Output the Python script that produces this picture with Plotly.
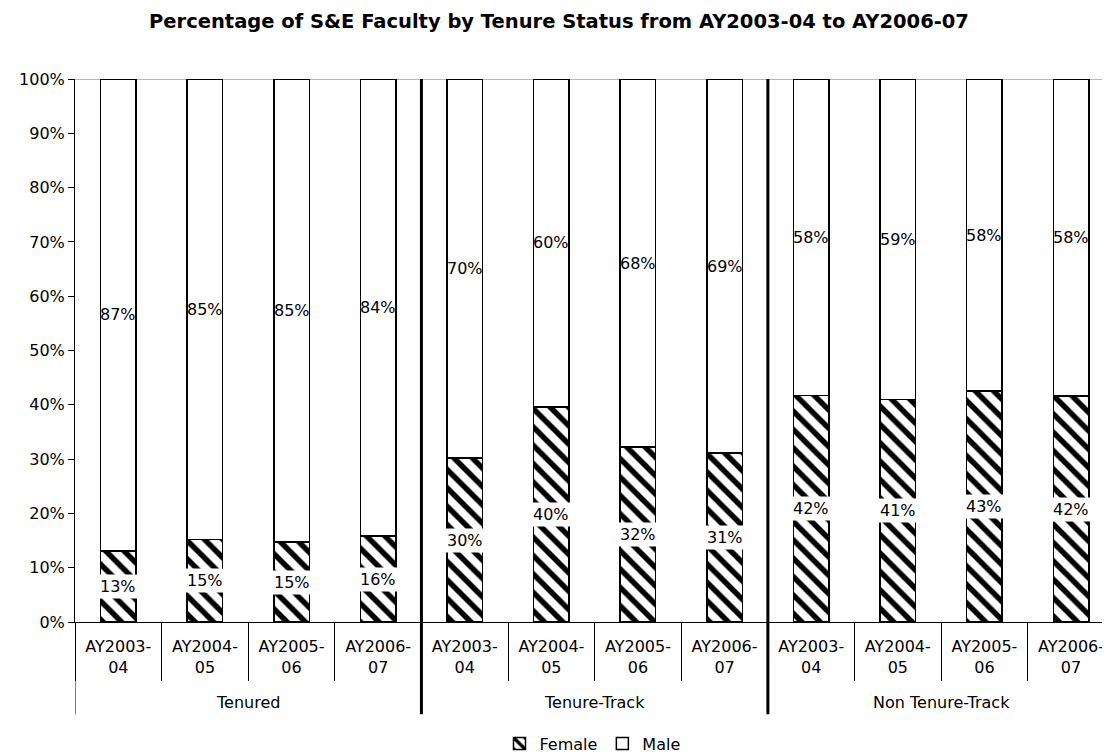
import math
import plotly.graph_objects as go

groups = ["Tenured", "Tenure-Track", "Non Tenure-Track"]
years = ["AY2003-<br>04", "AY2004-<br>05", "AY2005-<br>06", "AY2006-<br>07"]
female = [13.1, 15.2, 14.7, 15.8, 30.2, 39.6, 32.2, 31.1, 41.7, 41.0, 42.5, 41.6]
male = [round(100 - f, 1) for f in female]
y_ticks = list(range(0, 101, 10))

n_per = len(years)
pos = list(range(len(groups) * n_per))
tick_text = [y for _ in groups for y in years]

FONT = "Verdana, DejaVu Sans, sans-serif"


def pct(v):
    return f"{math.floor(v + 0.5)}%"


fig = go.Figure()
fig.add_trace(go.Bar(
    x=pos, y=female, name="Female",
    marker=dict(color="white", line=dict(color="black", width=1.5),
                pattern=dict(shape="\\", size=13, solidity=0.42,
                             fgcolor="black", bgcolor="white", fillmode="replace")),
))
fig.add_trace(go.Bar(
    x=pos, y=male, name="Male",
    marker=dict(color="white", line=dict(color="black", width=1.5)),
))

annotations = []
for i, (f, m) in enumerate(zip(female, male)):
    annotations.append(dict(x=pos[i], y=f / 2, xref="x", yref="y", text=pct(f),
                            showarrow=False, bgcolor="white", borderpad=2,
                            font=dict(size=16, color="black", family=FONT)))
    annotations.append(dict(x=pos[i], y=f + m / 2, xref="x", yref="y", text=pct(m),
                            showarrow=False,
                            font=dict(size=16, color="black", family=FONT)))
for gi, g in enumerate(groups):
    annotations.append(dict(x=gi * n_per + (n_per - 1) / 2, y=-0.149, xref="x", yref="paper",
                            text=g, showarrow=False, yanchor="middle",
                            font=dict(size=16, color="black", family=FONT)))

shapes = [dict(type="line", xref="paper", yref="y", x0=0, x1=1, y0=100, y1=100,
               line=dict(color="#a0a0a0", width=1.5), layer="below")]
# left edge line through the label area
shapes.append(dict(type="line", xref="x", yref="paper", x0=pos[0] - 0.5, x1=pos[0] - 0.5,
                   y0=-0.17, y1=0, line=dict(color="black", width=1)))
for gi in range(1, len(groups)):
    b = gi * n_per - 0.5
    shapes.append(dict(type="line", xref="x", yref="paper", x0=b, x1=b, y0=-0.17, y1=1,
                       line=dict(color="black", width=3)))

fig.update_layout(
    width=1102, height=748,
    margin=dict(l=67, r=0, t=71, b=134, autoexpand=False),
    paper_bgcolor="white", plot_bgcolor="white",
    barmode="stack", bargap=0.59,
    font=dict(family=FONT, size=16, color="black"),
    title=dict(text="<b>Percentage of S&E Faculty by Tenure Status from AY2003-04 to AY2006-07</b>",
               x=0.5, xref="container", xanchor="center", y=1 - 13 / 748, yanchor="middle",
               font=dict(size=19.5, family=FONT, color="black")),
    legend=dict(orientation="h", x=0.5, xanchor="center", y=-0.224, yanchor="middle",
                font=dict(size=16), itemwidth=30, traceorder="normal"),
    annotations=annotations, shapes=shapes,
)
fig.update_xaxes(type="linear", showline=True, linecolor="black", linewidth=1,
                 tickvals=pos, ticktext=tick_text, ticks="", ticklabelstandoff=10,
                 ticklabeloverflow="allow",
                 minor=dict(ticks="outside", ticklen=58, tickcolor="black", tick0=0.5, dtick=1,
                            showgrid=False),
                 range=[-0.5, 11.45], tickfont=dict(size=16), automargin=False,
                 showgrid=False, zeroline=False)
fig.update_yaxes(range=[0, 100], tickvals=y_ticks, ticktext=[f"{v}%" for v in y_ticks],
                 showline=True, linecolor="black", linewidth=1, ticks="outside",
                 ticklen=6, tickcolor="black", showgrid=False, zeroline=False,
                 tickfont=dict(size=16), automargin=False)

fig.write_html("out.html")
